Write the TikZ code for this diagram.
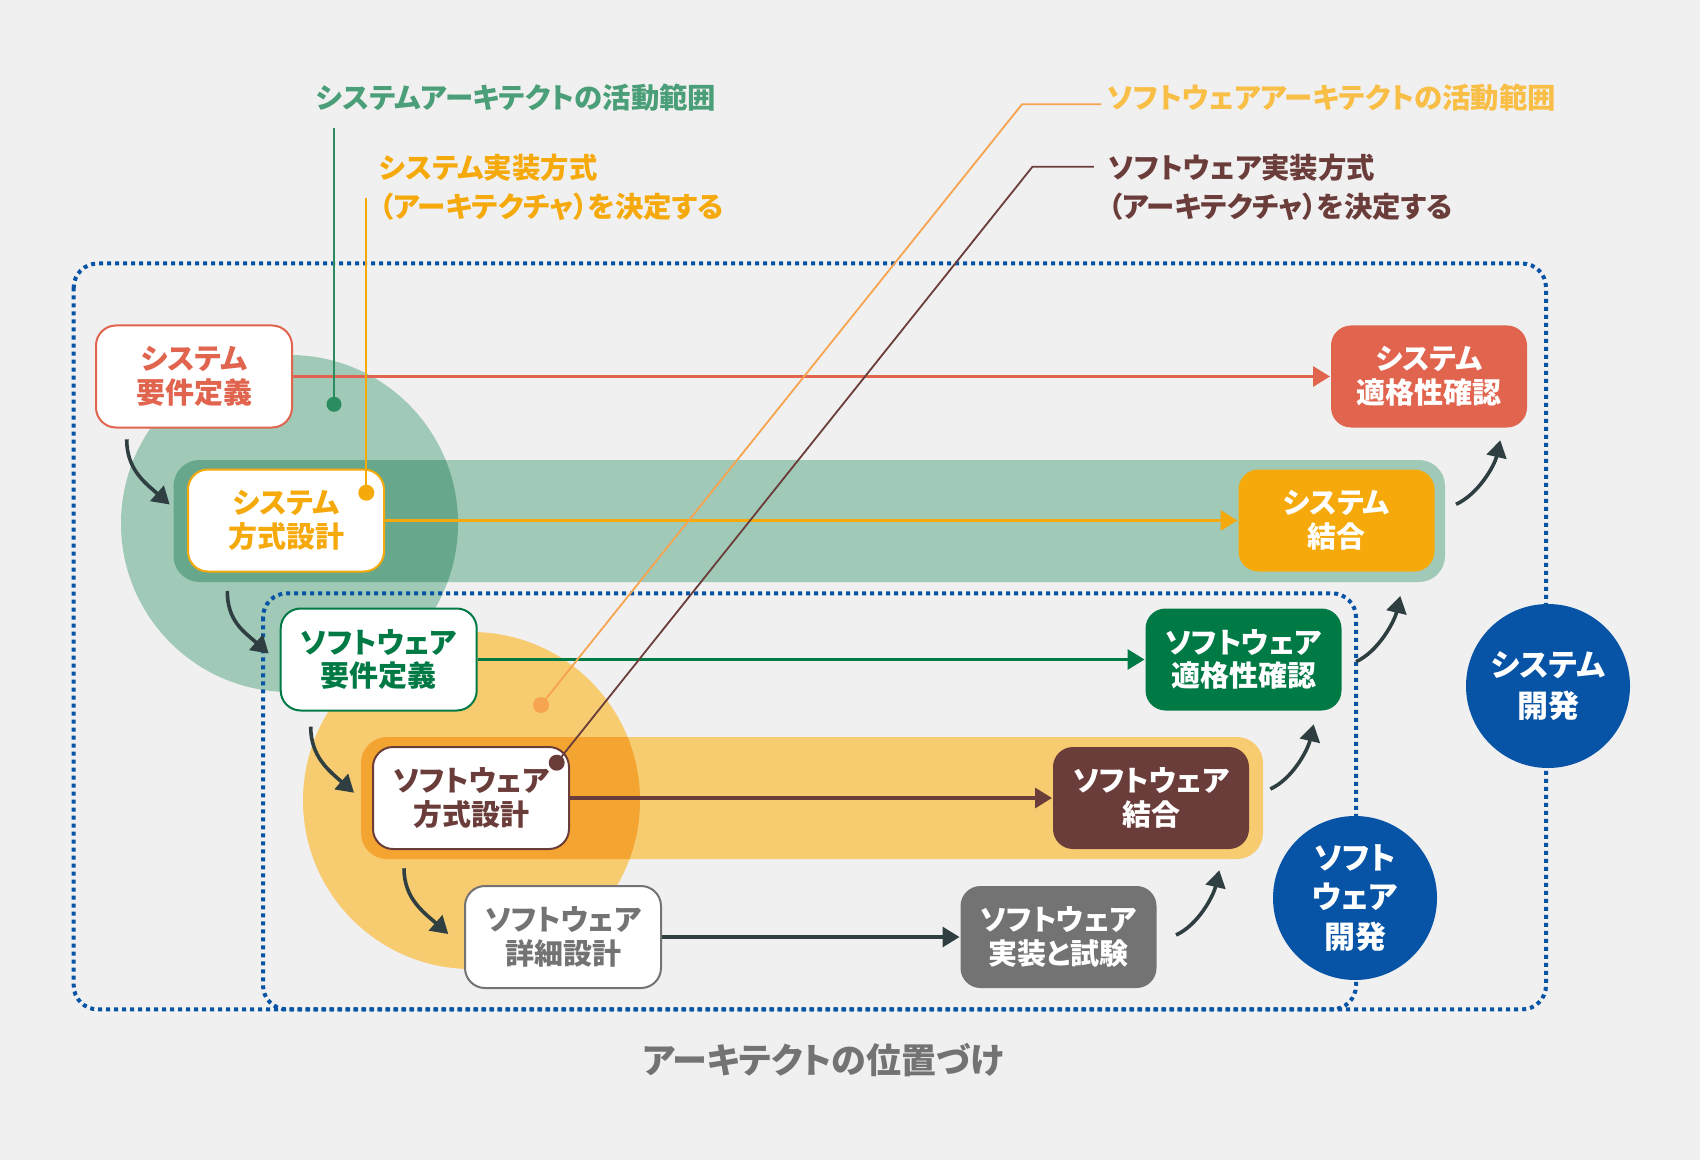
\documentclass[tikz,border=0pt]{standalone}
\usepackage{fontspec}
\setmainfont{Noto Sans CJK JP}[RawFeature=+palt]
\usetikzlibrary{arrows.meta,calc}

\definecolor{bgc}{HTML}{F0F0F0}
\definecolor{cred}{HTML}{E1644E}
\definecolor{corange}{HTML}{F5A90A}
\definecolor{cgreen}{HTML}{007A45}
\definecolor{cbrown}{HTML}{6B3D3A}
\definecolor{cgray}{HTML}{737373}
\definecolor{cblue}{HTML}{0753A5}
\definecolor{cflow}{HTML}{2F3E41}
\definecolor{glight}{HTML}{A0C9B7}
\definecolor{gdark}{HTML}{67A78B}
\definecolor{olight}{HTML}{F7CB6F}
\definecolor{odark}{HTML}{F4A431}
\definecolor{anngreen}{HTML}{4A9E78}
\definecolor{lgreen}{HTML}{2A8C5F}
\definecolor{swtext}{HTML}{F9BE45}
\definecolor{swline}{HTML}{F7A450}

\begin{document}
\begin{tikzpicture}[x=0.5pt,y=-0.5pt]
\tikzstyle{proc}=[draw,fill=white,line width=1pt,rounded corners=10pt,minimum width=98pt,minimum height=51pt,inner sep=0pt,align=center,font=\bfseries\fontsize{14.5}{16.9}\selectfont]
\tikzstyle{done}=[proc,draw=none,text=white]
\tikzstyle{devcircle}=[circle,fill=cblue,text=white,minimum size=82pt,inner sep=0pt,align=center,font=\bfseries\fontsize{15.5}{20.5}\selectfont]
\tikzstyle{note}=[anchor=west,inner sep=0pt,align=left,font=\bfseries\fontsize{14.2}{19.5}\selectfont]
\tikzstyle{flow}=[line width=1.8pt,cflow,-{Triangle[length=8.5pt,width=10pt]}]
\tikzstyle{dotbox}=[cblue,line width=2pt,dash pattern=on 2pt off 2pt,rounded corners=12pt]
\tikzstyle{leader}=[line width=0.9pt]

% background
\fill[bgc] (0,0) rectangle (1700,1160);

% system architect scope
\fill[glight] (289.5,523.5) circle (84.25pt);
\fill[glight,rounded corners=13pt] (173.5,460) rectangle (1445,582);
\begin{scope}
\clip (289.5,523.5) circle (84.25pt);
\fill[gdark,rounded corners=13pt] (173.5,460) rectangle (1445,582);
\end{scope}

% software architect scope
\fill[olight] (471.5,800.5) circle (84.25pt);
\fill[olight,rounded corners=13pt] (361,737) rectangle (1263,859);
\begin{scope}
\clip (471.5,800.5) circle (84.25pt);
\fill[odark,rounded corners=13pt] (361,737) rectangle (1263,859);
\end{scope}

% development frames
\draw[dotbox] (73.7,263.5) rectangle (1546,1009.4);
\draw[dotbox] (263,593.3) rectangle (1356,1009.4);

% processes
\node [proc,draw=cred,text=cred] (sysreq) at (194,376.5) {システム\\要件定義};
\node [proc,draw=corange,text=corange] (sysarch) at (286,520.5) {システム\\方式設計};
\node [proc,draw=cgreen,text=cgreen] (swreq) at (378.7,659.5) {ソフトウェア\\要件定義};
\node [proc,draw=cbrown,text=cbrown] (swarch) at (471,798) {ソフトウェア\\方式設計};
\node [proc,draw=cgray,text=cgray] (swdet) at (563,937) {ソフトウェア\\詳細設計};
\node [done,fill=cred] (systest) at (1429,376.5) {システム\\適格性確認};
\node [done,fill=corange] (sysint) at (1336.5,520.5) {システム\\結合};
\node [done,fill=cgreen] (swtest) at (1243.5,659.5) {ソフトウェア\\適格性確認};
\node [done,fill=cbrown] (swint) at (1151,798) {ソフトウェア\\結合};
\node [done,fill=cgray] (swimp) at (1058.5,937) {ソフトウェア\\実装と試験};

\path[line width=1.6pt,-{Triangle[length=8.5pt,width=10pt]}]
    (sysreq) edge [cred] (systest)
    (sysarch) edge [corange] (sysint)
    (swreq) edge [cgreen] (swtest)
    (swarch) edge [cbrown] (swint)
    (swdet) edge [cflow] (swimp);

% going down
\draw[flow] ($(sysreq.south west)+(31.7,10.8)$) .. controls +(0,30) and +(-25,-22) .. ($(sysarch.west)+(-17.3,-16)$);
\draw[flow] ($(sysarch.south west)+(40.3,18.5)$) .. controls +(0,30) and +(-25,-22) .. ($(swreq.west)+(-11,-6)$);
\draw[flow] ($(swreq.south west)+(31,15.2)$) .. controls +(0,30) and +(-25,-22) .. ($(swarch.west)+(-18,-5.3)$);
\draw[flow] ($(swarch.south west)+(32,18.3)$) .. controls +(0,30) and +(-25,-22) .. ($(swdet.west)+(-15.7,-3)$);
% going up
\draw[flow] ($(swimp.east)+(18.5,-2)$) .. controls +(22,-10) and +(-6,26) .. ($(swint.south east)+(-30.7,20.3)$);
\draw[flow] ($(swint.east)+(20.3,-9)$) .. controls +(22,-10) and +(-6,26) .. ($(swtest.south east)+(-28.8,12.8)$);
\draw[flow] ($(swtest.east)+(13.5,2.2)$) .. controls +(22,-10) and +(-6,26) .. ($(sysint.south east)+(-35.2,23.5)$);
\draw[flow] ($(sysint.east)+(20.5,-16.2)$) .. controls +(22,-10) and +(-6,26) .. ($(systest.south east)+(-27.7,11.8)$);

% notes
\node [note,text=anngreen] (sysscope) at (316,98) {システムアーキテクトの活動範囲};
\node [note,text=corange] (sysimpl) at (379,187.5) {システム実装方式\\（アーキテクチャ）を決定する};
\node [note,text=swtext] (swscope) at (1107,98) {ソフトウェアアーキテクトの活動範囲};
\node [note,text=cbrown] (swimpl) at (1108,187.5) {ソフトウェア実装方式\\（アーキテクチャ）を決定する};

\coordinate (gtop) at (334,128);
\coordinate (gdot) at (334,404.3);
\coordinate (otop) at (366.3,198);
\coordinate (odot) at (366.3,492.7);
\coordinate (swend) at (1101.4,104.3);
\coordinate (swbend) at (1022,104.3);
\coordinate (swdot) at (541,705);
\coordinate (brend) at (1093.8,166.7);
\coordinate (brbend) at (1032.5,166.7);
\coordinate (brdot) at (556.7,762.7);
\draw[leader,lgreen] (gtop) -- (gdot);
\fill[lgreen] (gdot) circle (3.75pt);
\draw[leader,corange] (otop) -- (odot);
\fill[corange] (odot) circle (4pt);
\draw[leader,swline] (swend) -- (swbend) -- (swdot);
\fill[swline] (swdot) circle (4pt);
\draw[leader,cbrown] (brend) -- (brbend) -- (brdot);
\fill[cbrown] (brdot) circle (4pt);

% development labels
\node [devcircle] (sysdev) at (1548,686) {システム\\開発};
\node [devcircle,font=\bfseries\fontsize{15.5}{19.8}\selectfont] (swdev) at (1355,898) {ソフト\\ウェア\\開発};

\node [font=\bfseries\fontsize{17.5}{20}\selectfont,text=cgray] (caption) at (823,1060) {アーキテクトの位置づけ};
\end{tikzpicture}
\end{document}
